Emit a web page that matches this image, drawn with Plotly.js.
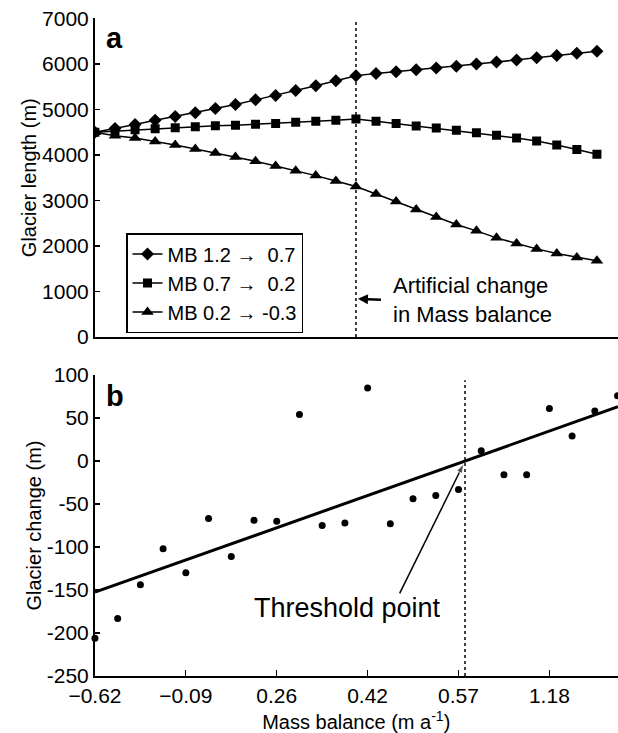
<!DOCTYPE html>
<html>
<head>
<meta charset="utf-8">
<script src="https://cdn.plot.ly/plotly-3.0.1.min.js"></script>
<style>
html,body{margin:0;padding:0;background:#fff;}
#chart{width:618px;height:733px;}
</style>
</head>
<body>
<div id="chart"></div>
<script>
// ---- Panel a data: simulation step index and glacier length (m)
var stepsA = [0,1,2,3,4,5,6,7,8,9,10,11,12,13,14,15,16,17,18,19,20,21,22,23,24,25];
var lenMB1 = [4500,4580,4670,4760,4845,4928,5020,5110,5210,5308,5415,5518,5628,5740,5792,5830,5870,5908,5950,5998,6040,6088,6138,6185,6235,6280];
var lenMB2 = [4500,4525,4552,4575,4598,4620,4640,4655,4672,4693,4720,4738,4760,4790,4742,4690,4638,4590,4540,4490,4432,4372,4305,4220,4118,4015];
var lenMB3 = [4500,4424,4370,4298,4217,4130,4042,3954,3860,3757,3655,3546,3428,3305,3143,2976,2800,2638,2471,2332,2178,2055,1936,1835,1748,1673];
var seriesNames = ["MB 1.2 \u2192 \u00A00.7", "MB 0.7 \u2192 \u00A00.2", "MB 0.2 \u2192 -0.3"];
var changeStep = 13;

// ---- Panel b data: mass balance order index and glacier change (m)
var idxB = [0,1,2,3,4,5,6,7,8,9,10,11,12,13,14,15,16,17,18,19,20,21,22,23];
var changeB = [-206,-183,-144,-102,-130,-67,-111,-69,-70,54,-75,-72,85,-73,-44,-40,-33,12,-16,-16,61,29,58,76];
var tickPosB = [0,4,8,12,16,20];
var tickLabB = ["\u22120.62","\u22120.09","0.26","0.42","0.57","1.18"];
var yTickValsB = [-250,-200,-150,-100,-50,0,50,100];
var yTickTextB = ["-250","-200","-150","-100","-50","0","50","100"];
var thresholdLabelAnchor = [13.41, -154];   // where the "Threshold point" arrow starts

// least-squares fit of panel b
var n = idxB.length, sx=0, sy=0, sxx=0, sxy=0;
for (var i=0;i<n;i++){ sx+=idxB[i]; sy+=changeB[i]; sxx+=idxB[i]*idxB[i]; sxy+=idxB[i]*changeB[i]; }
var slope = (n*sxy - sx*sy)/(n*sxx - sx*sx);
var icpt = (sy - slope*sx)/n;
var fitX = [0, 23.02];
var fitY = fitX.map(function(v){return icpt + slope*v;});
var thrX = -icpt/slope;

var FONT = "Liberation Sans, Arial, Helvetica, sans-serif";

var traces = [
  {x: stepsA, y: lenMB1, name: seriesNames[0], mode: "lines+markers", xaxis:"x", yaxis:"y",
   line:{color:"#000", width:1.5}, marker:{symbol:"diamond", size:10, color:"#000"}},
  {x: stepsA, y: lenMB2, name: seriesNames[1], mode: "lines+markers", xaxis:"x", yaxis:"y",
   line:{color:"#000", width:1.5}, marker:{symbol:"square", size:9, color:"#000"}},
  {x: stepsA, y: lenMB3, name: seriesNames[2], mode: "lines+markers", xaxis:"x", yaxis:"y",
   line:{color:"#000", width:1.5}, marker:{symbol:"triangle-up", size:11, color:"#000"}},
  {x: fitX, y: fitY, mode:"lines", xaxis:"x2", yaxis:"y2", showlegend:false,
   line:{color:"#000", width:3}},
  {x: idxB, y: changeB, mode:"markers", xaxis:"x2", yaxis:"y2", showlegend:false, cliponaxis:false,
   marker:{symbol:"circle", size:7, color:"#000"}},
  // arrow from the "Threshold point" label to the threshold
  {x: [thresholdLabelAnchor[0], thrX], y: [thresholdLabelAnchor[1], 0], mode:"lines+markers",
   xaxis:"x2", yaxis:"y2", showlegend:false, hoverinfo:"skip",
   line:{color:"#000", width:1.5},
   marker:{symbol:["circle","arrow"], size:[0,10], angleref:"previous", standoff:3, color:"#000"}}
];

var axCommon = {showgrid:false, zeroline:false, showline:true, linecolor:"#000", linewidth:1.5,
  ticks:"inside", tickcolor:"#000", tickwidth:1.2, tickfont:{family:FONT, size:21, color:"#000"}};

var layout = {
  width:618, height:733,
  margin:{l:0, r:0, t:0, b:0},
  paper_bgcolor:"#fff", plot_bgcolor:"#fff",
  font:{family:FONT, color:"#000"},
  showlegend:true,
  legend:{x:126/618, y:1-233/733, xanchor:"left", yanchor:"top",
    bgcolor:"#fff", bordercolor:"#000", borderwidth:1.5,
    font:{family:FONT, size:20, color:"#000"}, itemwidth:30, tracegroupgap:0},
  xaxis: Object.assign({}, axCommon, {domain:[94.5/618, 1], range:[-0.02, 26.05],
    showticklabels:false, ticks:"", anchor:"y"}),
  yaxis: Object.assign({}, axCommon, {domain:[1-337/733, 1-18.4/733], range:[0,7000],
    tickvals:[0,1000,2000,3000,4000,5000,6000,7000], ticklen:5, anchor:"x",
    title:{text:"Glacier length (m)", font:{family:FONT, size:20, color:"#000"}}}),
  xaxis2: Object.assign({}, axCommon, {domain:[94.5/618, 1], range:[-0.02, 23.02], anchor:"y2",
    tickmode:"array", tickvals:tickPosB, ticktext:tickLabB, ticklen:6,
    title:{text:"Mass balance (m a<sup>-1</sup>)", font:{family:FONT, size:20, color:"#000"}}}),
  yaxis2: Object.assign({}, axCommon, {domain:[1-676/733, 1-375/733], range:[-250,100], anchor:"x2",
    tickmode:"array", tickvals:yTickValsB, ticktext:yTickTextB, ticklen:5,
    title:{text:"Glacier change (m)", font:{family:FONT, size:20, color:"#000"}}}),
  shapes:[
    {type:"line", xref:"x", yref:"y", x0:changeStep, x1:changeStep, y0:0, y1:6950,
     line:{color:"#000", width:1.5, dash:"dot"}},
    {type:"line", xref:"x2", yref:"y2", x0:thrX, x1:thrX, y0:-250, y1:94,
     line:{color:"#000", width:1.5, dash:"dot"}}
  ],
  annotations:[
    {xref:"paper", yref:"paper", x:104/618, y:1-38/733, xanchor:"left", yanchor:"middle",
     text:"<b>a</b>", showarrow:false, font:{family:FONT, size:29, color:"#000"}},
    {xref:"paper", yref:"paper", x:104/618, y:1-396/733, xanchor:"left", yanchor:"middle",
     text:"<b>b</b>", showarrow:false, font:{family:FONT, size:29, color:"#000"}},
    {xref:"x", yref:"y", x:changeStep+0.1, y:840, ax:23, ay:1, axref:"pixel", ayref:"pixel",
     xanchor:"left", yanchor:"middle", align:"left", borderpad:11,
     text:"Artificial change<br>in Mass balance", showarrow:true,
     arrowhead:2, arrowsize:0.8, arrowwidth:2.5, arrowcolor:"#000",
     font:{family:FONT, size:22, color:"#000"}},
    {xref:"paper", yref:"paper", x:347/618, y:1-608/733, xanchor:"center", yanchor:"middle",
     text:"Threshold point", showarrow:false, font:{family:FONT, size:27, color:"#000"}}
  ]
};

Plotly.newPlot("chart", traces, layout, {displayModeBar:false, staticPlot:true}).then(function(gd){
  // drop empty placeholder text nodes (unused titles) left by the library
  var texts = gd.querySelectorAll("text");
  for (var k=0;k<texts.length;k++){
    if (!texts[k].textContent || !texts[k].textContent.trim()) texts[k].parentNode.removeChild(texts[k]);
  }
});
</script>
</body>
</html>
